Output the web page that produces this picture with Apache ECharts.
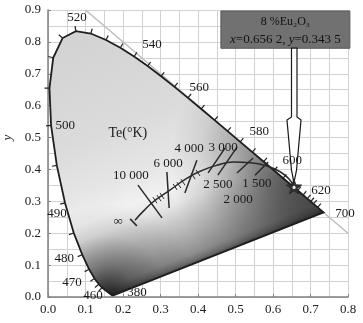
<!DOCTYPE html>
<html><head><meta charset="utf-8">
<script src="https://cdn.jsdelivr.net/npm/echarts@6/dist/echarts.min.js"></script>
<style>html,body{margin:0;padding:0;background:#fff}#c{width:363px;height:323px}</style>
</head><body><div id="c"></div>
<script>
// CIE 1931 spectral locus
const wavelengths = [380,390,400,410,420,430,440,450,460,465,470,475,480,485,490,495,500,505,510,515,520,525,530,535,540,545,550,555,560,565,570,575,580,585,590,595,600,605,610,615,620,625,630,640,650,660,680,700];
const locusX = [0.1741,0.1738,0.1733,0.1726,0.1714,0.1689,0.1644,0.1566,0.1440,0.1355,0.1241,0.1096,0.0913,0.0687,0.0454,0.0235,0.0082,0.0039,0.0139,0.0389,0.0743,0.1142,0.1547,0.1929,0.2296,0.2658,0.3016,0.3373,0.3731,0.4087,0.4441,0.4788,0.5125,0.5448,0.5752,0.6029,0.6270,0.6482,0.6658,0.6801,0.6915,0.7006,0.7079,0.7190,0.7260,0.7300,0.7334,0.7347];
const locusY = [0.0050,0.0049,0.0048,0.0048,0.0051,0.0069,0.0109,0.0177,0.0297,0.0399,0.0578,0.0868,0.1327,0.2007,0.2950,0.4127,0.5384,0.6548,0.7502,0.8120,0.8338,0.8262,0.8059,0.7816,0.7543,0.7243,0.6923,0.6589,0.6245,0.5896,0.5547,0.5202,0.4866,0.4544,0.4242,0.3965,0.3725,0.3514,0.3340,0.3197,0.3083,0.2993,0.2920,0.2809,0.2740,0.2700,0.2666,0.2653];
const wlTicks = [460,465,470,475,480,485,490,495,500,505,510,515,520,525,530,535,540,545,550,555,560,565,570,575,580,585,590,595,600,605,610,615,620,625,630,640];
const wlLabels = ['520','540','560','580','600','620','700','500','490','480','470','460','380'];
const wlLabelX = [0.077,0.277,0.403,0.563,0.651,0.728,0.792,0.046,0.024,0.043,0.064,0.120,0.237];
const wlLabelY = [0.875,0.790,0.658,0.520,0.429,0.335,0.263,0.536,0.263,0.122,0.044,0.006,0.0125];
// diagonal x + y = 1
const diagX = [0.1,0.8];
const diagY = [0.9,0.2];
// Planckian locus as drawn
const planckX = [0.232,0.255,0.280,0.325,0.371,0.413,0.450,0.493,0.540,0.584,0.620,0.645,0.656];
const planckY = [0.241,0.270,0.298,0.335,0.373,0.398,0.413,0.423,0.421,0.411,0.392,0.367,0.345];
const isoTemps = ['10 000','6 000','4 000','3 000','2 500','2 000','1 500'];
const isoX1 = [0.240,0.317,0.397,0.472,0.504,0.547,0.587];
const isoY1 = [0.351,0.392,0.429,0.467,0.470,0.436,0.423];
const isoX2 = [0.304,0.323,0.365,0.427,0.453,0.504,0.552];
const isoY2 = [0.248,0.279,0.326,0.389,0.382,0.389,0.382];
const minorX = [0.275,0.285,0.296,0.304,0.339,0.349,0.360,0.387,0.400];
const minorY = [0.295,0.304,0.310,0.317,0.345,0.351,0.360,0.379,0.389];
const infBarX = [0.219,0.237];
const infBarY = [0.245,0.223];
const tempLabels = ['Te(°K)','10 000','6 000','4 000','3 000','2 500','2 000','1 500','∞'];
const tempLabelX = [0.213,0.221,0.320,0.376,0.467,0.453,0.507,0.557,0.187];
const tempLabelY = [0.514,0.382,0.417,0.464,0.470,0.354,0.304,0.357,0.235];
// sample point and annotation
const sampleX = 0.6562, sampleY = 0.3435;
const boxX = [0.461,0.805];
const boxY = [0.780,0.897];
const boxLine1 = '8 %Eu₂O₃';
const boxLine2 = '{i|x}=0.656 2, {i|y}=0.343 5';
const arrowX = [0.6493,0.6493,0.6373,0.6493,0.6547,0.6573,0.6627,0.6747,0.6640,0.6640];
const arrowY = [0.7806,0.5643,0.5549,0.3981,0.3668,0.3668,0.3981,0.5549,0.5643,0.7806];

const SERIF = '"Liberation Serif","DejaVu Serif",serif';
const chart = echarts.init(document.getElementById('c'), null, {renderer:'canvas'});

function fillRender(params, api){
  const pts = locusX.map((x,i)=>api.coord([x, locusY[i]]));
  const a = api.coord([0.45,0.133]), b = api.coord([0.205,0.86]);
  const r = api.coord([0.70,0.42]);
  const bl = api.coord([0.16,0.01]);
  return {type:'group', children:[
    {type:'polygon', shape:{points:pts}, style:{fill:{type:'linear', x:a[0], y:a[1], x2:b[0], y2:b[1], global:true, colorStops:[
      {offset:0,color:'#505050'},{offset:0.015,color:'#707070'},{offset:0.04,color:'#8e8e8e'},{offset:0.1,color:'#a8a8a8'},{offset:0.18,color:'#c8c8c8'},
      {offset:0.25,color:'#e6e6e6'},{offset:0.31,color:'#f1f1f1'},{offset:0.42,color:'#e6e6e6'},{offset:0.62,color:'#dbdbdb'},{offset:1,color:'#d3d3d3'}]}}},
    {type:'polygon', shape:{points:pts}, style:{fill:{type:'radial', x:r[0], y:r[1], r:140, global:true, colorStops:[
      {offset:0,color:'rgba(0,0,0,0.6)'},{offset:0.22,color:'rgba(0,0,0,0.55)'},{offset:0.36,color:'rgba(0,0,0,0.45)'},{offset:0.58,color:'rgba(0,0,0,0.25)'},{offset:0.8,color:'rgba(0,0,0,0.08)'},{offset:1,color:'rgba(0,0,0,0)'}]}}},
    {type:'polygon', shape:{points:pts}, style:{fill:{type:'radial', x:bl[0], y:bl[1], r:90, global:true, colorStops:[
      {offset:0,color:'rgba(0,0,0,0.7)'},{offset:0.3,color:'rgba(0,0,0,0.35)'},{offset:0.65,color:'rgba(0,0,0,0.1)'},{offset:1,color:'rgba(0,0,0,0)'}]}}},
    {type:'polygon', shape:{points:pts}, style:{fill:null, stroke:'#1e1e1e', lineWidth:1.8}}
  ]};
}
function wlTickRender(params, api){
  const children = [];
  wlTicks.forEach(w=>{
    const i = wavelengths.indexOf(w);
    const p = api.coord([locusX[i],locusY[i]]);
    const a = api.coord([locusX[i-1],locusY[i-1]]);
    const b = api.coord([locusX[i+1],locusY[i+1]]);
    let tx=b[0]-a[0], ty=b[1]-a[1]; const n=Math.hypot(tx,ty); tx/=n; ty/=n;
    children.push({type:'line', shape:{x1:p[0],y1:p[1],x2:p[0]+ty*5,y2:p[1]-tx*5}, style:{stroke:'#222',lineWidth:1.2}});
  });
  return {type:'group', children};
}
function isoRender(params, api){
  const children = [];
  isoTemps.forEach((t,i)=>{
    const p = api.coord([isoX1[i],isoY1[i]]), q = api.coord([isoX2[i],isoY2[i]]);
    children.push({type:'line', shape:{x1:p[0],y1:p[1],x2:q[0],y2:q[1]}, style:{stroke:'#2a2a2a',lineWidth:1.5}});
  });
  minorX.forEach((x,i)=>{
    const p = api.coord([x,minorY[i]]);
    children.push({type:'line', shape:{x1:p[0]-2,y1:p[1]-3,x2:p[0]+2,y2:p[1]+3}, style:{stroke:'#2a2a2a',lineWidth:1}});
  });
  const e1 = api.coord([infBarX[0],infBarY[0]]), e2 = api.coord([infBarX[1],infBarY[1]]);
  children.push({type:'line', shape:{x1:e1[0],y1:e1[1],x2:e2[0],y2:e2[1]}, style:{stroke:'#2a2a2a',lineWidth:1.5}});
  return {type:'group', children};
}
function labelRender(params, api){
  const children = [];
  wlLabels.forEach((t,i)=>{
    const p = api.coord([wlLabelX[i],wlLabelY[i]]);
    children.push({type:'text', x:p[0], y:p[1], style:{text:t, fill:'#1a1a1a', font:'13px '+SERIF, align:'center', verticalAlign:'middle'}});
  });
  tempLabels.forEach((t,i)=>{
    const p = api.coord([tempLabelX[i],tempLabelY[i]]);
    children.push({type:'text', x:p[0], y:p[1], style:{text:t, fill:'#1a1a1a', font:(i===0?'14px ':'13px ')+SERIF, align:'center', verticalAlign:'middle'}});
  });
  return {type:'group', children};
}
function annotRender(params, api){
  const b1 = api.coord([boxX[0],boxY[1]]), b2 = api.coord([boxX[1],boxY[0]]);
  const cx = (b1[0]+b2[0])/2, h = b2[1]-b1[1];
  const arrow = arrowX.map((x,i)=>api.coord([x,arrowY[i]]));
  const s = api.coord([sampleX,sampleY]);
  const star = [];
  for(let k=0;k<10;k++){
    const rr = k%2===0 ? 8 : 3.2; const ang = -Math.PI/2 + k*Math.PI/5;
    star.push([s[0]+rr*Math.cos(ang), s[1]+rr*Math.sin(ang)]);
  }
  return {type:'group', children:[
    {type:'rect', shape:{x:b1[0], y:b1[1], width:b2[0]-b1[0], height:h}, style:{fill:'#717171', stroke:'#5a5a5a', lineWidth:1}},
    {type:'text', x:cx, y:b1[1]+h*0.3, style:{text:boxLine1, fill:'#111', font:'12px '+SERIF, align:'center', verticalAlign:'middle'}},
    {type:'text', x:cx, y:b1[1]+h*0.76, style:{text:boxLine2, fill:'#111', font:'13px '+SERIF, align:'center', verticalAlign:'middle',
      rich:{i:{fontStyle:'italic', fontFamily:SERIF, fontSize:13, fill:'#111'}}}},
    {type:'polygon', shape:{points:arrow}, style:{fill:'#ffffff', stroke:'#1a1a1a', lineWidth:1.2}},
    {type:'polygon', shape:{points:star}, style:{fill:'#333', stroke:'#222', lineWidth:0.8}},
    {type:'circle', shape:{cx:s[0], cy:s[1], r:1.6}, style:{fill:'#eee'}}
  ]};
}

const axisCommon = {
  axisLine:{show:true, lineStyle:{color:'#808080', width:1.5}},
  axisTick:{show:true, inside:true, length:3, lineStyle:{color:'#808080'}},
  axisLabel:{formatter:v=>v.toFixed(1), fontFamily:SERIF, fontSize:13, color:'#222'},
  splitLine:{show:true, lineStyle:{color:'#d2d2d2', width:1}},
  minorTick:{show:false, splitNumber:2},
  minorSplitLine:{show:true, lineStyle:{color:'#d2d2d2', width:1}}
};
chart.setOption({
  animation:false,
  grid:{left:48, right:15, top:10, bottom:26, outerBoundsMode:'none', containLabel:false},
  xAxis:Object.assign({type:'value', min:0, max:0.8, interval:0.1}, axisCommon,
    {axisLabel:Object.assign({}, axisCommon.axisLabel, {margin:6})}),
  yAxis:Object.assign({type:'value', min:0, max:0.9, interval:0.1, name:'y', nameLocation:'middle', nameGap:32, nameRotate:90,
    nameTextStyle:{fontFamily:SERIF, fontStyle:'italic', fontSize:13, color:'#222', padding:[0,0,0,32]}}, axisCommon,
    {axisLabel:Object.assign({}, axisCommon.axisLabel, {margin:7})}),
  series:[
    {type:'line', data:diagX.map((x,i)=>[x,diagY[i]]), symbol:'none', lineStyle:{color:'#bdbdbd', width:1.5}, z:1, silent:true},
    {type:'custom', data:[[0,0]], renderItem:fillRender, z:2, silent:true, clip:false},
    {type:'custom', data:[[0,0]], renderItem:wlTickRender, z:3, silent:true, clip:false},
    {type:'line', data:planckX.map((x,i)=>[x,planckY[i]]), smooth:true, symbol:'none', lineStyle:{color:'#2a2a2a', width:1.5}, z:4, silent:true},
    {type:'custom', data:[[0,0]], renderItem:isoRender, z:5, silent:true, clip:false},
    {type:'custom', data:[[0,0]], renderItem:annotRender, z:6, silent:true, clip:false},
    {type:'custom', data:[[0,0]], renderItem:labelRender, z:7, silent:true, clip:false}
  ]
});
</script></body></html>
